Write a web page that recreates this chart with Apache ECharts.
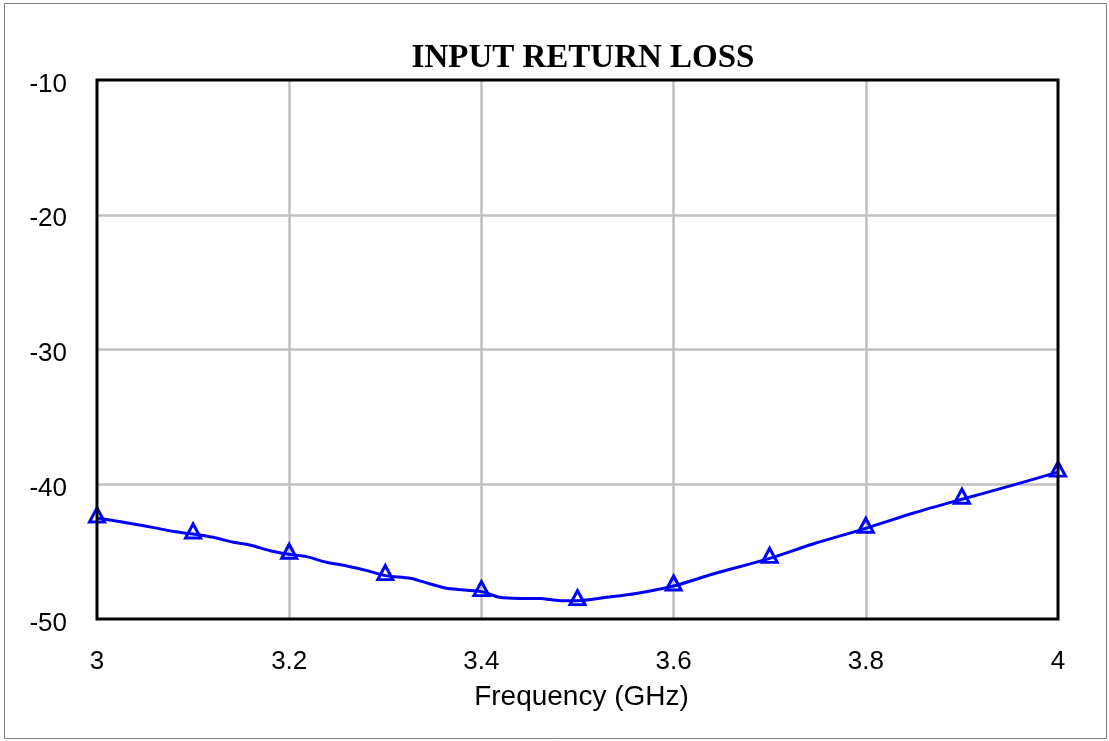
<!DOCTYPE html>
<html>
<head>
<meta charset="utf-8">
<script src="https://cdn.jsdelivr.net/npm/echarts@6/dist/echarts.min.js"></script>
<style>
html,body{margin:0;padding:0;background:#fff;}
#chart{width:1109px;height:741px;}
</style>
</head>
<body>
<div id="chart"></div>
<script>
// Fine curve samples (frequency GHz, return loss dB)
const curveFreq = [3.000,3.038,3.059,3.080,3.100,3.121,3.142,3.159,3.180,3.200,3.218,3.239,3.260,3.281,3.300,3.326,3.339,3.364,3.400,3.419,3.440,3.461,3.482,3.500,3.530,3.561,3.600,3.641,3.700,3.745,3.800,3.849,3.900,3.954,4.000];
const curveLoss = [-42.5,-42.95,-43.22,-43.51,-43.69,-43.94,-44.31,-44.51,-44.93,-45.2,-45.37,-45.79,-46.06,-46.41,-46.78,-46.98,-47.23,-47.72,-47.97,-48.39,-48.47,-48.47,-48.64,-48.64,-48.39,-48.10,-47.55,-46.66,-45.5,-44.43,-43.27,-42.15,-41.11,-40.05,-39.1];
// Marker points
const markerFreq = [3.0,3.1,3.2,3.3,3.4,3.5,3.6,3.7,3.8,3.9,4.0];
const markerLoss = [-42.5,-43.69,-45.2,-46.78,-47.97,-48.64,-47.55,-45.5,-43.27,-41.11,-39.1];
const titleText = 'INPUT RETURN LOSS';
const xName = 'Frequency (GHz)';

const chart = echarts.init(document.getElementById('chart'), null, {renderer:'canvas'});
chart.setOption({
  animation:false,
  backgroundColor:'#fff',
  graphic:[{type:'rect',shape:{x:4.5,y:3.5,width:1102,height:735},style:{fill:'none',stroke:'#808080',lineWidth:1},silent:true,z:-1}],
  title:{text:titleText,left:578,textAlign:'center',top:37,
    textStyle:{fontFamily:'Liberation Serif',fontWeight:'bold',fontSize:33,color:'#000'}},
  grid:{left:97,top:80,right:51,bottom:122,show:true,borderColor:'#000',borderWidth:3,backgroundColor:'transparent',z:5},
  xAxis:{type:'value',min:3,max:4,interval:0.2,
    name:xName,nameLocation:'middle',nameGap:64,
    nameTextStyle:{fontFamily:'Liberation Sans',fontSize:28,color:'#000',padding:[0,0,0,8]},
    axisLine:{show:false},axisTick:{show:false},
    axisLabel:{margin:30,fontFamily:'Liberation Sans',fontSize:26,color:'#000',formatter:v=>String(+v.toFixed(1))},
    splitLine:{show:true,showMinLine:false,showMaxLine:false,lineStyle:{color:'#c0c0c0',width:2.5}}},
  yAxis:{type:'value',min:-50,max:-10,interval:10,
    axisLine:{show:false},axisTick:{show:false},
    axisLabel:{margin:30,color:'#000',formatter:v=>'{a|'+v+'}',
      rich:{a:{fontFamily:'Liberation Sans',fontSize:26,color:'#000',padding:[9,0,0,0]}}},
    splitLine:{show:true,showMinLine:false,showMaxLine:false,lineStyle:{color:'#c0c0c0',width:2.5}}},
  series:[
    {type:'line',data:curveFreq.map((f,i)=>[f,curveLoss[i]]),smooth:0.3,showSymbol:false,
     lineStyle:{color:'#0000ff',width:3},z:3},
    {type:'scatter',data:markerFreq.map((f,i)=>[f,markerLoss[i]]),symbol:'triangle',symbolSize:[15,14],symbolOffset:[0,-3],
     itemStyle:{color:'rgba(255,255,255,0)',borderColor:'#0000ff',borderWidth:3,opacity:1},z:4}
  ]
});
</script>
</body>
</html>
